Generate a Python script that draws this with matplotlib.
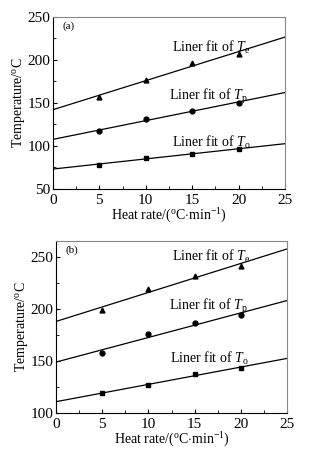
import numpy as np
import matplotlib
matplotlib.use("Agg")
import matplotlib.pyplot as plt
from matplotlib.ticker import MultipleLocator

plt.rcParams['font.family'] = 'Liberation Serif'
plt.rcParams['mathtext.fontset'] = 'custom'
plt.rcParams['mathtext.rm'] = 'Liberation Serif'
plt.rcParams['mathtext.it'] = 'Liberation Serif:italic'

# heating rates, degC/min
rates = [5, 10, 15, 20]

# panel (a)
te_a = [157, 177, 196, 207]
tp_a = [117, 131, 141, 150]
to_a = [78, 86, 91, 96]

# panel (b)
te_b = [199, 219, 232, 241]
tp_b = [158, 176, 186, 194]
to_b = [119, 127, 138, 143]


def draw_panel(ax, te, tp, to, ylim, ystep, tag, label_pos):
    """scatter the three temperatures and their linear fits"""
    xx = np.array([0, 25])
    for ys, mk, sub, pos in zip((te, tp, to), ('^', 'o', 's'), ('e', 'p', 'o'), label_pos):
        k, b = np.polyfit(rates, ys, 1)
        ax.plot(xx, k * xx + b, color='black', lw=0.9)
        ax.plot(rates, ys, mk, color='black', ms=3.5)
        ax.text(pos[0], pos[1], r'Liner fit of $T_{\rm %s}$' % sub, fontsize=10, va='center')
    ax.set_xlim(0, 25)
    ax.set_ylim(*ylim)
    ax.xaxis.set_major_locator(MultipleLocator(5))
    ax.xaxis.set_minor_locator(MultipleLocator(2.5))
    ax.yaxis.set_major_locator(MultipleLocator(ystep))
    ax.yaxis.set_minor_locator(MultipleLocator(ystep / 2))
    ax.tick_params(which='both', direction='in', top=False, right=False, labelsize=11)
    ax.tick_params(axis='x', pad=3.5)
    ax.tick_params(axis='y', pad=2)
    ax.tick_params(which='major', length=3)
    ax.tick_params(which='minor', length=2)
    for sp in ax.spines.values():
        sp.set_linewidth(0.8)
    ax.spines['right'].set_color('#888888')
    ax.spines['top'].set_color('#888888')
    ax.set_xlabel(r'Heat rate/($^{\rm o}$C$\cdot$min$^{-1}$)', fontsize=10, labelpad=0)
    ax.set_ylabel(r'Temperature/$^{\rm o}$C', fontsize=10, labelpad=0)
    ax.text(0.04, 0.93, tag, transform=ax.transAxes, fontsize=8)


fig = plt.figure(figsize=(3.15, 4.55), dpi=100)
ax1 = fig.add_axes([0.168, 0.585, 0.737, 0.378])
ax2 = fig.add_axes([0.178, 0.092, 0.733, 0.378])

draw_panel(ax1, te_a, tp_a, to_a, (50, 250), 50, '(a)',
           [(12.8, 214), (12.5, 157), (12.8, 104)])
draw_panel(ax2, te_b, tp_b, to_b, (100, 265), 50, '(b)',
           [(12.6, 250), (12.2, 202), (12.3, 152)])

fig.savefig('out.png', dpi=100)
